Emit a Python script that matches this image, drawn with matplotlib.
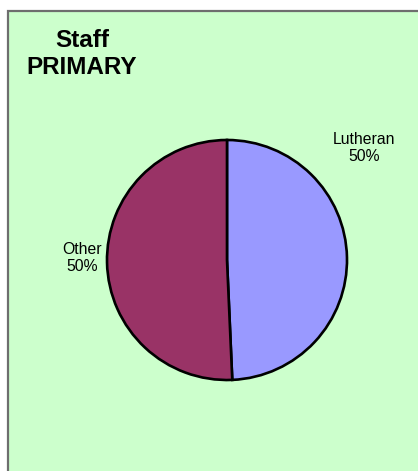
import matplotlib.pyplot as plt
from matplotlib.patches import Rectangle

# data
categories = ["Lutheran", "Other"]
values = [49.3, 50.7]
pct_labels = ["50%", "50%"]
colors = ["#9999FF", "#993366"]
title_lines = ["Staff", "PRIMARY"]

plt.rcParams['font.family'] = ['Liberation Sans', 'DejaVu Sans']

W, H = 418, 471
fig = plt.figure(figsize=(W / 100, H / 100), dpi=100)
fig.patch.set_facecolor('white')
ax = fig.add_axes([0, 0, 1, 1])

# chart area background + border (top/left visible only)
ax.add_patch(Rectangle((7.5, -5), W + 10, H - 10.5 + 5, facecolor='#CCFFCC',
                       edgecolor='#6E6E6E', linewidth=1.6, zorder=0))

# pie
cx, cy, r = 227, H - 260, 120
ax.pie(values, colors=colors, startangle=90, counterclock=False,
       center=(cx, cy), radius=r, frame=True,
       wedgeprops=dict(edgecolor='black', linewidth=1.9))
ax.set_xlim(0, W)
ax.set_ylim(0, H)
ax.set_aspect('equal')
ax.axis('off')

# slice labels
label_pos = [(364, H - 148), (82, H - 258)]
for name, pct, (lx, ly) in zip(categories, pct_labels, label_pos):
    ax.text(lx, ly, name + "\n" + pct, ha='center', va='center',
            fontsize=11.3, linespacing=1.15, color='black')

# title
ax.text(82, H - 54, "\n".join(title_lines), ha='center', va='center',
        fontsize=17.5, fontweight='bold', linespacing=1.2)

plt.savefig('out.png', dpi=100)
